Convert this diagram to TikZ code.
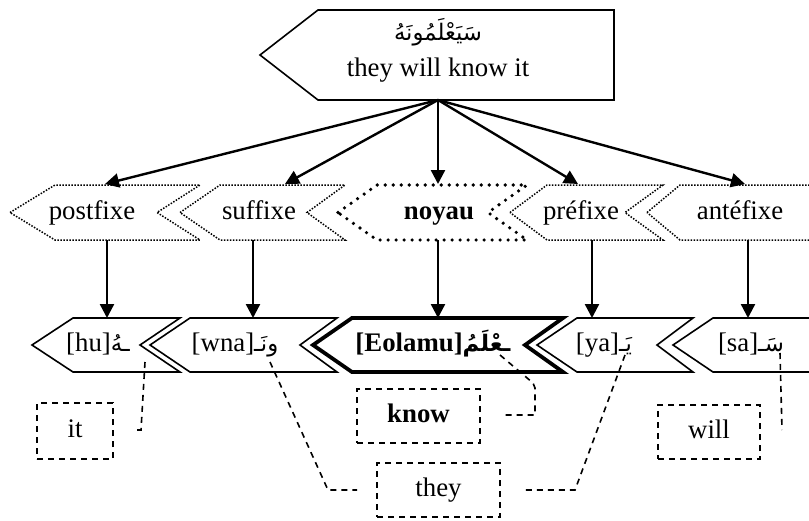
\documentclass[tikz,border=0pt]{standalone}
\usepackage{fontspec}
\setmainfont{Liberation Serif}
\newfontfamily\arabicfont[Script=Arabic,Scale=0.85]{DejaVu Sans}
\TeXXeTstate=1
\usetikzlibrary{arrows.meta}

% Arabic run, set right to left
\newcommand\ar[1]{{\arabicfont\beginR #1\endR}}
% arrow-like outline: tip x, top-left x, top-right x, notch x, top y, middle y, bottom y
\newcommand\chevshape[8][]{%
  \draw[#1] (#2,#7) -- (#3,#6) -- (#4,#6) -- (#5,#7) -- (#4,#8) -- (#3,#8) -- cycle;}

\begin{document}
\begin{tikzpicture}[x=0.5pt,y=-0.5pt,
  font=\fontsize{13.4}{16}\selectfont,
  solidshape/.style={line width=0.8pt,line join=miter},
  heavyshape/.style={line width=1.9pt,line join=miter},
  dotshape/.style={line width=0.75pt,dash pattern=on 0.75pt off 0.75pt},
  bigdotshape/.style={line width=1.8pt,line cap=round,dash pattern=on 0pt off 4pt},
  arr/.style={line width=1.2pt,-{Triangle[length=7pt,width=7pt]}},
  gloss/.style={draw,line width=0.8pt,dash pattern=on 3pt off 2.5pt,inner sep=0pt,
    text height=9pt,text depth=3pt},
  link/.style={line width=0.8pt,dash pattern=on 3pt off 2.5pt},
  lbl/.style={inner sep=0pt,text height=9pt,text depth=3pt}]
\useasboundingbox (0,0) rectangle (809,520);

% ---- word ----
\draw[solidshape] (260,55) -- (318,10) -- (614,10) -- (614,100) -- (318,100) -- cycle;
\node[lbl] (word-ar) at (438,34) {\ar{سَيَعْلَمُونَهُ}};
\node[lbl] (word) at (438,70) {they will know it};
\coordinate (word-s) at (438,100);

% ---- morpheme slots ----
\chevshape[dotshape]{10}{55}{200}{157}{185}{212.5}{240}
\chevshape[dotshape]{180}{220}{345}{307}{185}{212.5}{240}
\chevshape[bigdotshape]{338}{377}{527}{488}{185}{212.5}{240}
\chevshape[dotshape]{510}{547}{663}{625}{185}{212.5}{240}
\chevshape[dotshape]{647}{680}{870}{827}{185}{212.5}{240}

\node[lbl] (postfixe) at (92,213) {postfixe};
\node[lbl] (suffixe) at (259,213) {suffixe};
\node[lbl] (noyau) at (439,213) {\textbf{noyau}};
\node[lbl] (prefixe) at (581,213) {préfixe};
\node[lbl] (antefixe) at (740,213) {antéfixe};

\coordinate (postfixe-n) at (105,184);
\coordinate (suffixe-n) at (285,184);
\coordinate (noyau-n) at (438,184);
\coordinate (prefixe-n) at (578,184);
\coordinate (antefixe-n) at (745,184);
\coordinate (postfixe-s) at (107,240);
\coordinate (suffixe-s) at (253,240);
\coordinate (noyau-s) at (438,240);
\coordinate (prefixe-s) at (592,240);
\coordinate (antefixe-s) at (748,240);

\foreach \m in {postfixe,suffixe,noyau,prefixe,antefixe}
  \draw[arr] (word-s) -- (\m-n);

% ---- morphemes ----
\chevshape[solidshape]{32}{73}{180}{140}{318}{345}{372}
\chevshape[solidshape]{150}{190}{337}{300}{318}{345}{372}
\chevshape[heavyshape]{313}{352}{563}{525}{318}{345}{372}
\chevshape[solidshape]{537}{577}{693}{657}{318}{345}{372}
\chevshape[solidshape]{673}{713}{870}{830}{318}{345}{372}

\node[lbl] (hu) at (98,345) {[hu]\ar{ـهُ}};
\node[lbl] (wna) at (235,345) {[wna]\ar{ونَـ}};
\node[lbl] (eolamu) at (433,345) {\bfseries [Eolamu]\ar{ـعْلَمُ}};
\node[lbl] (ya) at (604,345) {[ya]\ar{يَـ}};
\node[lbl] (sa) at (751,345) {[sa]\ar{سَـ}};

\coordinate (hu-n) at (107,318);
\coordinate (wna-n) at (253,318);
\coordinate (eolamu-n) at (438,318);
\coordinate (ya-n) at (592,318);
\coordinate (sa-n) at (748,318);

\draw[arr] (postfixe-s) -- (hu-n);
\draw[arr] (suffixe-s) -- (wna-n);
\draw[arr] (noyau-s) -- (eolamu-n);
\draw[arr] (prefixe-s) -- (ya-n);
\draw[arr] (antefixe-s) -- (sa-n);

% ---- glosses ----
\node[gloss,minimum width=38pt,minimum height=28pt] (it) at (75,431) {it};
\node[gloss,minimum width=61.5pt,minimum height=27pt] (know) at (418.5,416) {\textbf{know}};
\node[gloss,minimum width=61.5pt,minimum height=27pt] (they) at (438.5,490) {they};
\node[gloss,minimum width=51pt,minimum height=27pt] (will) at (709,432) {will};

% link anchors
\coordinate (hu-ar) at (145,362);
\coordinate (wna-ar) at (270,362);
\coordinate (eolamu-ar) at (500,355);
\coordinate (ya-ar) at (625,355);
\coordinate (sa-ar) at (780,353);
\coordinate (it-e) at (133,430);
\coordinate (know-e) at (505,415);
\coordinate (they-w) at (357,490);
\coordinate (they-e) at (525,490);
\coordinate (will-e) at (782,430);

\draw[link] (hu-ar) -- (141,430) -- (it-e);
\draw[link] (wna-ar) -- (328,490) -- (they-w);
\draw[link] (ya-ar) -- (575,490) -- (they-e);
\draw[link] (eolamu-ar) -- (533,383) -- (535,388) -- (535,415) -- (know-e);
\draw[link] (sa-ar) -- (will-e);
\end{tikzpicture}
\end{document}
